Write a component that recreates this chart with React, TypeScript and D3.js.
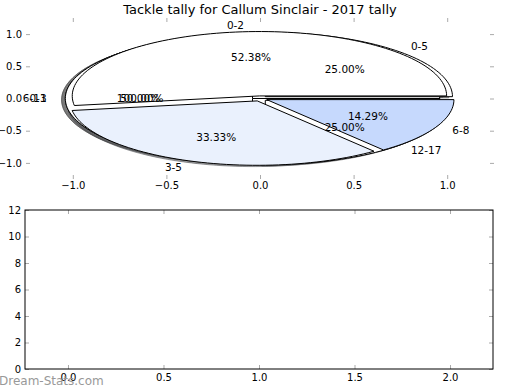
import * as d3 from 'd3';
import React, { useRef, useEffect } from 'react';

const title = "Tackle tally for Callum Sinclair - 2017 tally";

// three pies drawn on the same axes, in draw order
const pieLabels3 = ["0-3"];
const pieValues3 = [1];
const pieColors3 = ["#ffffff"];

const pieLabels2 = ["0-5", "6-11", "12-17"];
const pieValues2 = [1, 2, 1];
const pieColors2 = ["#ffffff", "#ffffff", "#ffffff"];

const pieLabels1 = ["0-2", "3-5", "6-8"];
const pieValues1 = [11, 7, 3];
const pieColors1 = ["#ffffff", "#eaf1fd", "#c6d9fd"];

const pieTicks = [-1, -0.5, 0, 0.5, 1];
const barYTicks = [0, 2, 4, 6, 8, 10, 12];
const barXTicks = [0, 0.5, 1, 1.5, 2];

const FONT = "DejaVu Sans, sans-serif";

function App(): any {
  const ref = useRef(null);
  const width = 520;
  const height = 390;

  useEffect(() => {
    const svg = d3.select(ref.current);
    svg.selectAll("*").remove();

    // ---- top: pie axes ----
    const x = d3.scaleLinear().domain([-1.25, 1.25]).range([26, 494]);
    const y = d3.scaleLinear().domain([-1.25, 1.25]).range([179, 18]);
    const line = d3.line<number[]>().x((d) => x(d[0])).y((d) => y(d[1]));

    const explode = 0.04;
    const pies = [
      { labels: pieLabels3, values: pieValues3, colors: pieColors3 },
      { labels: pieLabels2, values: pieValues2, colors: pieColors2 },
      { labels: pieLabels1, values: pieValues1, colors: pieColors1 },
    ];

    const wedges: any[] = [];
    pies.forEach((p) => {
      const total = d3.sum(p.values);
      let start = 0;
      p.values.forEach((v, i) => {
        const frac = v / total;
        const t1 = start;
        const t2 = start + frac * 360;
        const mid = ((t1 + t2) / 2) * Math.PI / 180;
        const cx = explode * Math.cos(mid);
        const cy = explode * Math.sin(mid);
        const pts: number[][] = [[cx, cy]];
        const n = Math.max(2, Math.ceil((t2 - t1) / 2));
        for (let k = 0; k <= n; k++) {
          const t = (t1 + (t2 - t1) * k / n) * Math.PI / 180;
          pts.push([cx + Math.cos(t), cy + Math.sin(t)]);
        }
        wedges.push({ pts, mid, cx, cy, frac, label: p.labels[i], color: p.colors[i] });
        start = t2;
      });
    });

    const pieG = svg.append("g");

    // shadows go under every wedge
    wedges.forEach((w) => {
      const c = d3.rgb(w.color);
      const sc = d3.rgb(c.r * 0.3, c.g * 0.3, c.b * 0.3).toString();
      const sp = w.pts.map((d: number[]) => [d[0] - 0.02, d[1] - 0.02]);
      pieG.append("path")
        .attr("d", line(sp) + "Z")
        .attr("fill", sc)
        .attr("fill-opacity", 0.5)
        .attr("stroke", sc)
        .attr("stroke-opacity", 0.5)
        .attr("stroke-width", 1);
    });

    wedges.forEach((w) => {
      pieG.append("path")
        .attr("d", line(w.pts) + "Z")
        .attr("fill", w.color)
        .attr("stroke", "#000")
        .attr("stroke-width", 1)
        .attr("stroke-linejoin", "round");
    });

    wedges.forEach((w) => {
      const lx = w.cx + 1.1 * Math.cos(w.mid);
      const ly = w.cy + 1.1 * Math.sin(w.mid);
      pieG.append("text")
        .attr("x", x(lx))
        .attr("y", y(ly))
        .attr("dy", "0.35em")
        .attr("text-anchor", lx > 0 ? "start" : "end")
        .style("font-family", FONT)
        .style("font-size", "10.5px")
        .text(w.label);
      const px = w.cx + 0.6 * Math.cos(w.mid);
      const py = w.cy + 0.6 * Math.sin(w.mid);
      pieG.append("text")
        .attr("x", x(px))
        .attr("y", y(py))
        .attr("dy", "0.35em")
        .attr("text-anchor", "middle")
        .style("font-family", FONT)
        .style("font-size", "10.5px")
        .text(d3.format(".2f")(w.frac * 100) + "%");
    });

    const styleAxis = (g: any) => {
      g.select(".domain").remove();
      g.selectAll("line").attr("stroke", "#aaa");
      g.selectAll("text").style("font-family", FONT).style("font-size", "10px").attr("fill", "#000");
    };

    svg.append("g").attr("transform", "translate(26,0)")
      .call(d3.axisLeft(y).tickValues(pieTicks).tickSize(-4).tickPadding(4).tickFormat(d3.format(".1f")))
      .call(styleAxis);
    svg.append("g").attr("transform", "translate(494,0)")
      .call(d3.axisRight(y).tickValues(pieTicks).tickSize(-4).tickFormat(() => ""))
      .call(styleAxis);
    svg.append("g").attr("transform", "translate(0,179)")
      .call(d3.axisBottom(x).tickValues(pieTicks).tickSize(-4).tickPadding(3).tickFormat(d3.format(".1f")))
      .call(styleAxis);
    svg.append("g").attr("transform", "translate(0,18)")
      .call(d3.axisTop(x).tickValues(pieTicks).tickSize(-4).tickFormat(() => ""))
      .call(styleAxis);

    svg.append("text")
      .attr("x", 260)
      .attr("y", 14)
      .attr("text-anchor", "middle")
      .style("font-family", FONT)
      .style("font-size", "13px")
      .text(title);

    // ---- bottom: empty axes ----
    const bx = d3.scaleLinear().domain([-0.225, 2.225]).range([25, 493]);
    const by = d3.scaleLinear().domain([0, 12]).range([369, 210]);

    svg.append("g").attr("transform", "translate(25,0)")
      .call(d3.axisLeft(by).tickValues(barYTicks).tickSize(-4).tickPadding(4).tickFormat(d3.format("d")))
      .call(styleAxis);
    svg.append("g").attr("transform", "translate(493,0)")
      .call(d3.axisRight(by).tickValues(barYTicks).tickSize(-4).tickFormat(() => ""))
      .call(styleAxis);
    svg.append("g").attr("transform", "translate(0,369)")
      .call(d3.axisBottom(bx).tickValues(barXTicks).tickSize(-4).tickPadding(5).tickFormat(d3.format(".1f")))
      .call(styleAxis);
    svg.append("g").attr("transform", "translate(0,210)")
      .call(d3.axisTop(bx).tickValues(barXTicks).tickSize(-4).tickFormat(() => ""))
      .call(styleAxis);

    svg.append("rect")
      .attr("x", 25)
      .attr("y", 210)
      .attr("width", 468)
      .attr("height", 159)
      .attr("fill", "none")
      .attr("stroke", "#000")
      .attr("stroke-width", 1);

    svg.append("text")
      .attr("x", -1)
      .attr("y", 385)
      .style("font-family", FONT)
      .style("font-size", "12px")
      .attr("fill", "#999")
      .text("Dream-Stats.com");
  }, []);

  return (
    <svg
      ref={ref}
      width={width}
      height={height}
      style={{ position: "absolute", left: 0, top: 0, background: "#fff" }}
    />
  );
}

export default App;
